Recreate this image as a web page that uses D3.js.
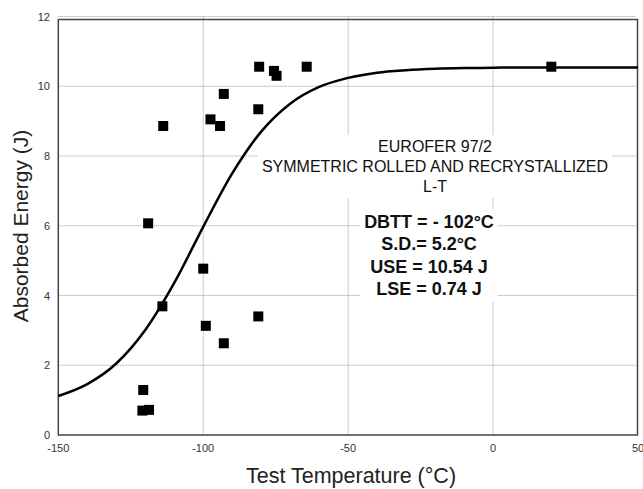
<!DOCTYPE html>
<html>
<head>
<meta charset="utf-8">
<script src="https://cdn.jsdelivr.net/npm/d3@7"></script>
<style>
  body { margin: 0; background: #fff; }
  svg { font-family: "Liberation Sans", Arial, sans-serif; }
</style>
</head>
<body>
<svg id="chart" width="643" height="489"></svg>
<script>
// measured Charpy points (temperature in C, energy in J)
const temps = [-113.8, -119.0, -97.5, -94.2, -92.9, -81.0, -80.7, -75.6, -74.7, -64.3, 20.1,
               -100.0, -114.1, -99.1, -92.9, -81.0, -120.7, -121.0, -118.7];
const energies = [8.86, 6.07, 9.05, 8.86, 9.78, 9.34, 10.56, 10.44, 10.30, 10.56, 10.56,
                  4.77, 3.69, 3.13, 2.63, 3.40, 1.29, 0.70, 0.72];

// fitted transition curve
const curveT = [-150, -140, -130, -120, -110, -100, -90, -80, -70, -60, -50, -40, -30, -20, -10, 0, 10, 20, 30, 40, 50];
const curveE = [1.12, 1.46, 2.05, 3.01, 4.36, 5.97, 7.50, 8.70, 9.50, 9.98, 10.24, 10.39, 10.46, 10.50, 10.52, 10.53, 10.54, 10.54, 10.54, 10.54, 10.54];

const xTicks = [-150, -100, -50, 0, 50];
const yTicks = [0, 2, 4, 6, 8, 10, 12];

const infoLines = ['EUROFER 97/2', 'SYMMETRIC ROLLED AND RECRYSTALLIZED', 'L-T'];
const resultLines = ['DBTT = - 102°C', 'S.D.= 5.2°C', 'USE = 10.54 J', 'LSE = 0.74 J'];

const svg = d3.select('#chart');
const plotL = 58.3, plotR = 638, plotT = 16.5, plotB = 435;

const x = d3.scaleLinear().domain([-150, 50]).range([plotL, plotR]);
const y = d3.scaleLinear().domain([0, 12]).range([plotB, plotT]);

// grid
const grid = svg.append('g')
  .attr('stroke', '#999')
  .attr('stroke-width', 1)
  .attr('stroke-dasharray', '1,1');

grid.selectAll('line.gx')
  .data(xTicks.slice(1, -1))
  .join('line')
  .attr('x1', d => x(d)).attr('x2', d => x(d))
  .attr('y1', plotT).attr('y2', plotB);

grid.selectAll('line.gy')
  .data(yTicks.slice(1))
  .join('line')
  .attr('x1', plotL).attr('x2', plotR - 2)
  .attr('y1', d => y(d)).attr('y2', d => y(d));

// frame
svg.append('rect')
  .attr('x', plotL).attr('y', plotT + 3)
  .attr('width', plotR - plotL - 0.5).attr('height', plotB - plotT - 3)
  .attr('fill', 'none')
  .attr('stroke', '#444')
  .attr('stroke-width', 1.5);

// tick labels
svg.append('g')
  .selectAll('text')
  .data(xTicks)
  .join('text')
  .attr('x', d => x(d))
  .attr('y', 452)
  .attr('text-anchor', 'middle')
  .attr('font-size', 11)
  .attr('fill', '#333')
  .text(d => d);

svg.append('g')
  .selectAll('text')
  .data(yTicks)
  .join('text')
  .attr('x', 50)
  .attr('y', d => y(d) + 4)
  .attr('text-anchor', 'end')
  .attr('font-size', 11)
  .attr('fill', '#333')
  .text(d => d);

// axis titles
svg.append('text')
  .attr('x', 351)
  .attr('y', 483)
  .attr('text-anchor', 'middle')
  .attr('font-size', 21.5)
  .attr('fill', '#222')
  .text('Test Temperature (°C)');

svg.append('text')
  .attr('transform', 'translate(28,226) rotate(-90)')
  .attr('text-anchor', 'middle')
  .attr('font-size', 21)
  .attr('fill', '#222')
  .text('Absorbed Energy (J)');

// annotation blocks with white backing
function textBlock(lines, cx, y0, step, size, weight) {
  const g = svg.append('g');
  const bg = g.append('rect').attr('fill', '#fff');
  g.selectAll('text')
    .data(lines)
    .join('text')
    .attr('x', cx)
    .attr('y', (d, i) => y0 + i * step)
    .attr('text-anchor', 'middle')
    .attr('font-size', size)
    .attr('font-weight', weight)
    .attr('fill', '#111')
    .text(d => d);
  const bb = g.node().getBBox();
  bg.attr('x', bb.x - 4).attr('y', bb.y - 3)
    .attr('width', bb.width + 8).attr('height', bb.height + 6);
}

textBlock(infoLines, 435, 152, 20, 16, 'normal');
textBlock(resultLines, 429, 228, 22.4, 18, 'bold');

// fitted curve
const line = d3.line()
  .x(d => x(d[0]))
  .y(d => y(d[1]))
  .curve(d3.curveMonotoneX);

svg.append('path')
  .datum(d3.zip(curveT, curveE))
  .attr('fill', 'none')
  .attr('stroke', '#000')
  .attr('stroke-width', 2.5)
  .attr('d', line);

// data points
const s = 10;
svg.append('g')
  .selectAll('rect')
  .data(d3.zip(temps, energies))
  .join('rect')
  .attr('x', d => x(d[0]) - s / 2)
  .attr('y', d => y(d[1]) - s / 2)
  .attr('width', s)
  .attr('height', s)
  .attr('fill', '#000');
</script>
</body>
</html>
